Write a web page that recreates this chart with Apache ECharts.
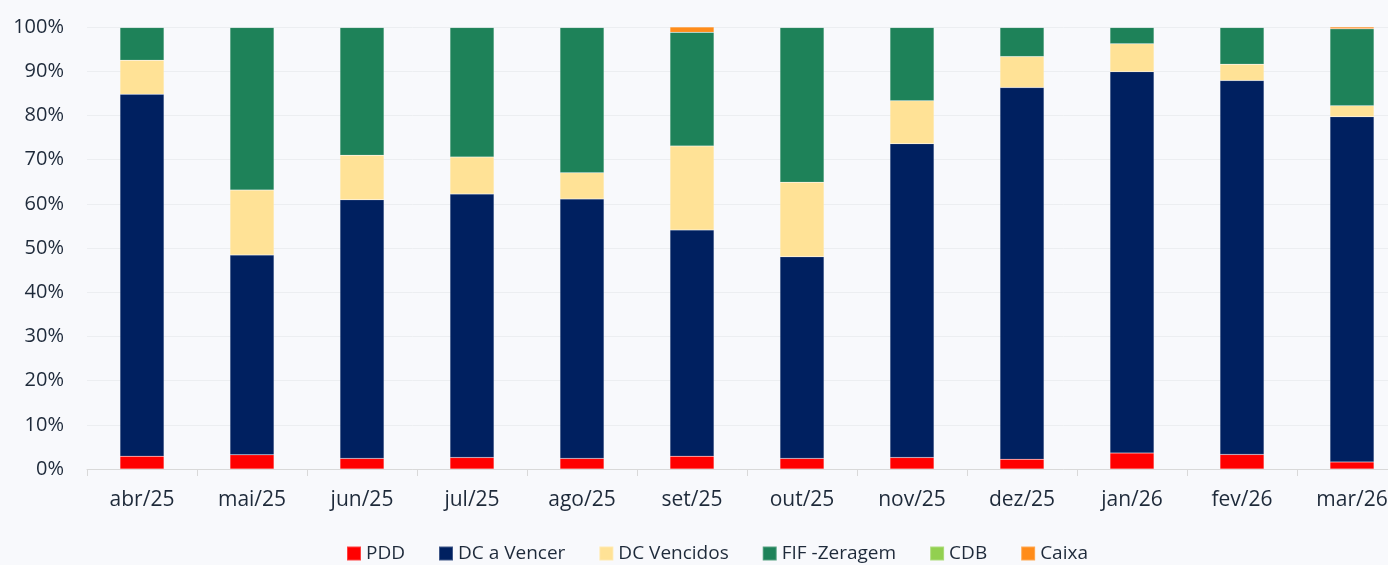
<!DOCTYPE html>
<html>
<head>
<meta charset="utf-8">
<script src="https://cdn.jsdelivr.net/npm/echarts@6/dist/echarts.min.js"></script>
<style>
  html, body { margin: 0; padding: 0; background: #f8f9fc; }
  #chart { width: 1388px; height: 565px; }
</style>
</head>
<body>
<div id="chart"></div>
<script>
// meses
const months = ['abr/25', 'mai/25', 'jun/25', 'jul/25', 'ago/25', 'set/25', 'out/25', 'nov/25', 'dez/25', 'jan/26', 'fev/26', 'mar/26'];
// participacao (%) de cada componente
const pdd        = [2.9, 3.2, 2.4, 2.6, 2.4, 2.9, 2.4, 2.6, 2.2, 3.6, 3.3, 1.6];
const dcVencer   = [81.9, 45.2, 58.5, 59.6, 58.7, 51.2, 45.6, 71.0, 84.1, 86.3, 84.6, 78.1];
const dcVencidos = [7.7, 14.7, 10.1, 8.4, 5.9, 19.0, 16.9, 9.7, 7.0, 6.3, 3.7, 2.5];
const fifZeragem = [7.4, 36.8, 28.9, 29.3, 32.9, 25.7, 35.0, 16.6, 6.6, 3.7, 8.3, 17.4];
const cdb        = [0, 0, 0, 0, 0, 0, 0, 0, 0, 0, 0, 0];
const caixa      = [0.1, 0.1, 0.1, 0.1, 0.1, 1.2, 0.1, 0.1, 0.1, 0.1, 0.1, 0.4];
const yTicks = [0, 10, 20, 30, 40, 50, 60, 70, 80, 90, 100];

const textColor = '#1e2a3a';
const fontFamily = 'Open Sans';

function serie(name, data, color) {
    return {
        name: name,
        type: 'bar',
        stack: 'total',
        barWidth: 44,
        data: data,
        itemStyle: { color: color, borderColor: 'rgba(255,255,255,0.25)', borderWidth: 0.5 },
        emphasis: { disabled: true }
    };
}

let myChart = echarts.init(document.getElementById('chart'));
let option = {
    backgroundColor: '#f8f9fc',
    animation: false,
    textStyle: { fontFamily: fontFamily },
    grid: {
        left: 87,
        top: 27,
        width: 1320,   // o grafico passa um pouco da borda direita
        height: 442,
        outerBoundsMode: 'none',
        containLabel: false
    },
    legend: {
        top: 539,
        left: 341,
        itemWidth: 14,
        itemHeight: 14,
        itemGap: 33,
        icon: 'rect',
        textStyle: { color: textColor, fontSize: 19, fontFamily: fontFamily }
    },
    xAxis: {
        type: 'category',
        data: months,
        boundaryGap: true,
        axisLine: { lineStyle: { color: '#d9d9d9', width: 1 } },
        axisTick: { show: true, length: 7, lineStyle: { color: '#d9d9d9' } },
        axisLabel: { color: textColor, fontSize: 21, margin: 21, fontFamily: fontFamily }
    },
    yAxis: {
        type: 'value',
        min: yTicks[0],
        max: yTicks[yTicks.length - 1],
        interval: 10,
        axisLine: { show: false },
        axisTick: { show: false },
        splitLine: { lineStyle: { color: '#eceef1', width: 1 } },
        axisLabel: {
            color: textColor,
            fontSize: 20,
            margin: 23,
            fontFamily: fontFamily,
            formatter: '{value}%'
        }
    },
    series: [
        serie('PDD', pdd, '#ff0000'),
        serie('DC a Vencer', dcVencer, '#002060'),
        serie('DC Vencidos', dcVencidos, '#ffe296'),
        serie('FIF -Zeragem', fifZeragem, '#1e8259'),
        serie('CDB', cdb, '#92d050'),
        serie('Caixa', caixa, '#ff8c1a')
    ]
};
myChart.setOption(option);
</script>
</body>
</html>
